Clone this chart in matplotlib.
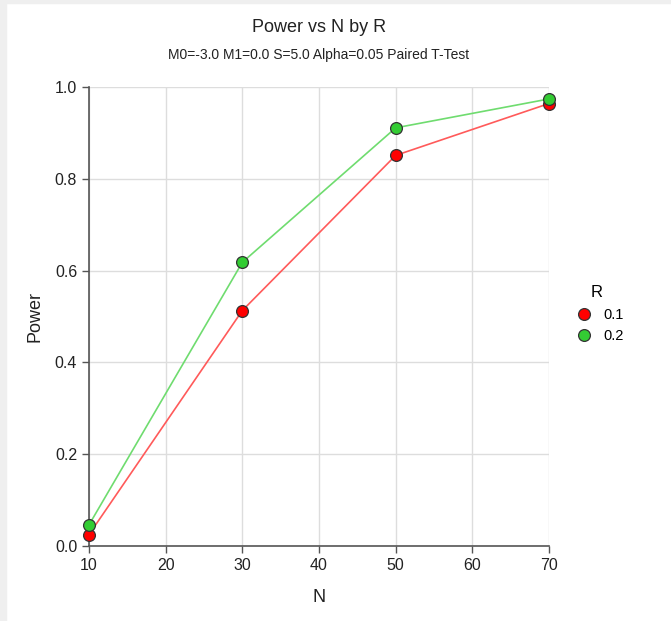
import matplotlib
matplotlib.use("Agg")
import matplotlib.pyplot as plt
from matplotlib.patches import Rectangle

n_values = [10, 30, 50, 70]
r_labels = ["0.1", "0.2"]
power_r01 = [0.025, 0.513, 0.851, 0.964]
power_r02 = [0.046, 0.618, 0.911, 0.974]
colors = ["#ff0000", "#33cc33"]
line_colors = ["#ff5a5a", "#6fdc6f"]

plt.rcParams['font.family'] = ['Liberation Sans', 'DejaVu Sans']

fig = plt.figure(figsize=(6.71, 6.21), dpi=100)
fig.patch.set_facecolor("white")
# thin grey frame at top and left edges
fig.patches.append(Rectangle((0, 0), 6/671, 1, transform=fig.transFigure, color="#efefef", zorder=0))
fig.patches.append(Rectangle((0, 1 - 3/621), 1, 3/621, transform=fig.transFigure, color="#efefef", zorder=0))

ax = fig.add_axes([89/671, 1 - 546/621, 460/671, 459/621])

for vals, lab, c, lc in zip([power_r01, power_r02], r_labels, colors, line_colors):
    ax.plot(n_values, vals, color=lc, lw=1.2, zorder=3)
    ax.plot(n_values, vals, ls="none", marker="o", ms=8.5, mfc=c, mec="#333333",
            mew=0.9, label=lab, zorder=4, clip_on=False)

ax.set_xlim(10, 70)
ax.set_ylim(0, 1.0)
ax.set_xticks([10, 20, 30, 40, 50, 60, 70])
ax.set_yticks([0.0, 0.2, 0.4, 0.6, 0.8, 1.0])
ax.set_yticklabels(["0.0", "0.2", "0.4", "0.6", "0.8", "1.0"])
ax.grid(True, color="#dddddd", lw=1)
ax.set_axisbelow(True)

for s in ["top", "right"]:
    ax.spines[s].set_visible(False)
for s in ["left", "bottom"]:
    ax.spines[s].set_color("#555555")
    ax.spines[s].set_linewidth(1.2)
ax.tick_params(colors="#555555", labelcolor="#222222", labelsize=11.5, length=5, width=1)

ax.set_xlabel("N", fontsize=13, color="#222222", labelpad=12)
ax.set_ylabel("Power", fontsize=13, color="#222222", labelpad=8)

fig.text(ax.get_position().x0 + ax.get_position().width / 2, 1 - 27/621, "Power vs N by R",
         ha="center", va="center", fontsize=13, color="#222222")
fig.text(ax.get_position().x0 + ax.get_position().width / 2, 1 - 55/621,
         "M0=-3.0 M1=0.0 S=5.0 Alpha=0.05 Paired T-Test",
         ha="center", va="center", fontsize=10, color="#222222")

leg = ax.legend(title="R", loc="center left", bbox_to_anchor=(1.032, 0.505), frameon=False,
                fontsize=10.5, title_fontsize=12, handletextpad=0.3, labelspacing=0.5,
                borderaxespad=0)

fig.savefig("out.png", dpi=100)
